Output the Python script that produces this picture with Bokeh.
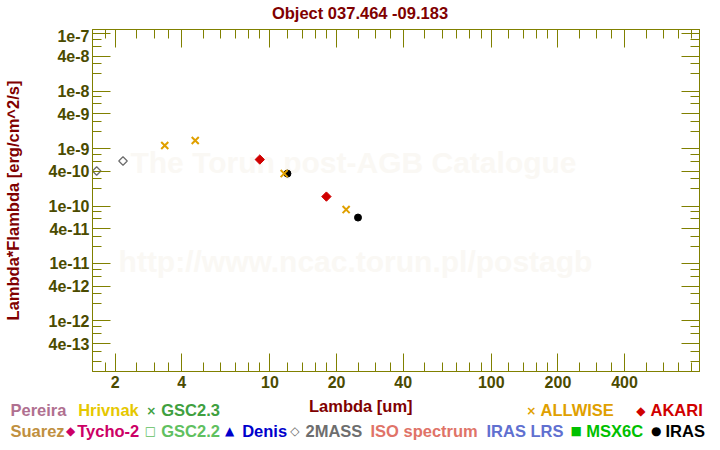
from math import pi
from bokeh.plotting import figure
from bokeh.layouts import column
from bokeh.models import Range1d, FixedTicker, LogAxis, Label
from bokeh.embed import file_html
from bokeh.resources import INLINE

# ---------------- data ----------------
title_text = "Object 037.464 -09.183"
x_title = "Lambda [um]"
y_title = "Lambda*Flambda [erg/cm^2/s]"

twomass_wl = [1.65, 2.17]
twomass_flux = [4.07e-10, 6.08e-10]
allwise_wl = [3.35, 4.6, 11.6, 22.1]
allwise_flux = [1.13e-9, 1.38e-9, 3.67e-10, 8.68e-11]
akari_wl = [9.0, 18.0]
akari_flux = [6.44e-10, 1.46e-10]
iras_wl = [12.0, 25.0]
iras_flux = [3.67e-10, 6.30e-11]

x_major = [2, 4, 10, 20, 40, 100, 200, 400]
x_major_labels = ["2", "4", "10", "20", "40", "100", "200", "400"]
x_minor = [1.8, 2.5, 3, 3.5, 5, 6, 7, 8, 9, 12, 14, 16, 18, 25, 30, 35,
           50, 60, 70, 80, 90, 120, 140, 160, 180, 250, 300, 350,
           500, 600, 700, 800]
y_major = [1e-7, 4e-8, 1e-8, 4e-9, 1e-9, 4e-10, 1e-10, 4e-11, 1e-11,
           4e-12, 1e-12, 4e-13]
y_major_labels = ["1e-7", "4e-8", "1e-8", "4e-9", "1e-9", "4e-10", "1e-10",
                  "4e-11", "1e-11", "4e-12", "1e-12", "4e-13"]
y_minor = [m * 10.0 ** e for e in range(-14, -6) for m in (2, 3, 6, 8)]

legend_row1 = ["Pereira", "Hrivnak", "GSC2.3", "ALLWISE", "AKARI"]
legend_row2 = ["Suarez", "Tycho-2", "GSC2.2", "Denis", "2MASS",
               "ISO spectrum", "IRAS LRS", "MSX6C", "IRAS"]

# ---------------- styles ----------------
OLIVE = "#808000"
TICKLAB = "#4b4b00"
DARKRED = "#800000"
FONT = "Liberation Sans"
C_ALLWISE = "#e0a000"
C_AKARI = "#d00000"
C_2MASS = "#6e6e6e"
C_IRAS = "#000000"
WATERMARK = "#faf8f4"

W = 720
TOP_H = 29          # title strip
MAIN_H = 366        # frame (342) + bottom tick labels
LEG_H = 450 - TOP_H - MAIN_H
FL, FR = 92, 699

# ---------------- title strip ----------------
top = figure(width=W, height=TOP_H, x_range=Range1d(0, W),
             y_range=Range1d(TOP_H, 0), x_axis_type=None, y_axis_type=None,
             output_backend="svg", toolbar_location=None, min_border=0,
             frame_align=False)
top.grid.visible = False
top.outline_line_color = None
top.add_layout(Label(x=359.5, y=12, text=title_text, text_color=DARKRED,
                     text_font=FONT, text_font_size="16.5px",
                     text_font_style="bold", text_align="center",
                     text_baseline="middle"))

# ---------------- main plot ----------------
p = figure(width=W, height=MAIN_H, x_axis_type="log", y_axis_type="log",
           x_range=Range1d(1.58, 872), y_range=Range1d(1.32e-13, 1.18e-7),
           output_backend="svg", toolbar_location=None,
           min_border_left=FL, min_border_right=W - FR,
           min_border_top=0, min_border_bottom=MAIN_H - 342,
           frame_align=False)
p.title.visible = False
p.grid.visible = False
p.outline_line_color = OLIVE
p.background_fill_color = "white"
p.border_fill_color = "white"


def style_axis(ax, ticks, minor, labels):
    ax.ticker = FixedTicker(ticks=ticks, minor_ticks=minor)
    ax.axis_line_color = OLIVE
    ax.major_tick_line_color = OLIVE
    ax.minor_tick_line_color = OLIVE
    ax.major_tick_in = 18
    ax.major_tick_out = 0
    ax.minor_tick_in = 9
    ax.minor_tick_out = 0
    ax.major_label_overrides = {t: l for t, l in zip(ticks, labels)}
    ax.major_label_text_font = FONT
    ax.major_label_text_font_style = "bold"
    ax.major_label_text_font_size = "16px"
    ax.major_label_text_color = TICKLAB


def mirror_axis(where, ticks, length):
    ax = LogAxis(ticker=FixedTicker(ticks=[], minor_ticks=ticks))
    ax.axis_line_color = OLIVE
    ax.major_tick_line_color = None
    ax.minor_tick_line_color = OLIVE
    ax.minor_tick_in = length
    ax.minor_tick_out = 0
    ax.major_tick_in = 0
    ax.major_tick_out = 0
    ax.major_label_standoff = 0
    p.add_layout(ax, where)


style_axis(p.below[0], x_major, x_minor, x_major_labels)
style_axis(p.left[0], y_major, y_minor, y_major_labels)
p.below[0].major_label_standoff = 4
p.left[0].major_label_standoff = 3
p.left[0].axis_label = y_title
p.left[0].axis_label_text_font = FONT
p.left[0].axis_label_text_font_style = "bold"
p.left[0].axis_label_text_font_size = "16.5px"
p.left[0].axis_label_text_color = DARKRED
p.left[0].axis_label_standoff = 24

mirror_axis("above", x_major, 18)
mirror_axis("above", x_minor, 9)
mirror_axis("right", y_major, 18)
mirror_axis("right", y_minor, 9)

# watermark (inside the frame, beneath the data)
for txt, X, Y in [("The Torun post-AGB Catalogue", 353, 162),
                  ("http://www.ncac.torun.pl/postagb", 355, 261)]:
    p.add_layout(Label(x=X - FL, y=342 - (Y - TOP_H),
                       x_units="screen", y_units="screen", text=txt,
                       text_color=WATERMARK, text_font=FONT,
                       text_font_size="30px", text_font_style="bold",
                       text_align="center", text_baseline="middle",
                       level="underlay"))

# data glyphs
p.scatter(iras_wl, iras_flux, marker="circle", size=7,
          fill_color=C_IRAS, line_color=C_IRAS)
p.scatter(allwise_wl, allwise_flux, marker="x", size=10,
          line_color=C_ALLWISE, line_width=2)
p.scatter(akari_wl, akari_flux, marker="square", size=6.6, angle=pi / 4,
          fill_color=C_AKARI, line_color=C_AKARI)
p.scatter(twomass_wl, twomass_flux, marker="square", size=6.0, angle=pi / 4,
          fill_color=None, line_color=C_2MASS, line_width=1.3)

# ---------------- legend strip ----------------
leg = figure(width=W, height=LEG_H, x_range=Range1d(0, W),
             y_range=Range1d(LEG_H, 0), x_axis_type=None, y_axis_type=None,
             output_backend="svg", toolbar_location=None, min_border=0,
             frame_align=False)
leg.grid.visible = False
leg.outline_line_color = None
Y0 = TOP_H + MAIN_H


def lab(X, Y, text, color, size, align="left", font=FONT):
    leg.add_layout(Label(x=X, y=Y - Y0, text=text, text_color=color,
                         text_font=font, text_font_size=size,
                         text_font_style="bold", text_align=align,
                         text_baseline="middle"))


lab(360.3, 405, x_title, DARKRED, "16.5px", align="center")

row1_x = [10, 77.7, 160.7, 540, 650]
row1_c = ["#b07090", "#e6c800", "#40a040", C_ALLWISE, C_AKARI]
row2_x = [10, 76.7, 160.7, 241.7, 305, 370, 486, 585.7, 665]
row2_c = ["#c09040", "#cc0066", "#60c060", "#0000cc", C_2MASS,
          "#e07368", "#6070d0", "#00c000", "#000000"]
Y1, Y2 = 409.7, 430

for t, x, c in zip(legend_row1, row1_x, row1_c):
    lab(x, Y1, t, c, "16.5px")
for t, x, c in zip(legend_row2, row2_x, row2_c):
    lab(x, Y2, t, c, "16.5px")

sym1 = [("\u00d7", 150.7, "#40a040"), ("\u00d7", 530.7, C_ALLWISE),
        ("\u25c6", 640.3, C_AKARI)]
sym2 = [("\u25c6", 70, "#cc0066"), ("\u25a1", 150, "#60c060"),
        ("\u25b2", 229, "#0000cc"), ("\u25c7", 294.3, C_2MASS),
        ("\u25a0", 575.7, "#00c000"), ("\u25cf", 655.7, "#000000")]
for s, x, c in sym1:
    lab(x, Y1 + 0.5, s, c, "12px", align="center", font="DejaVu Sans")
for s, x, c in sym2:
    lab(x, Y2 + 0.5, s, c, "12px", align="center", font="DejaVu Sans")

layout = column(top, p, leg, spacing=0)
open("out.html", "w").write(file_html(layout, INLINE))
